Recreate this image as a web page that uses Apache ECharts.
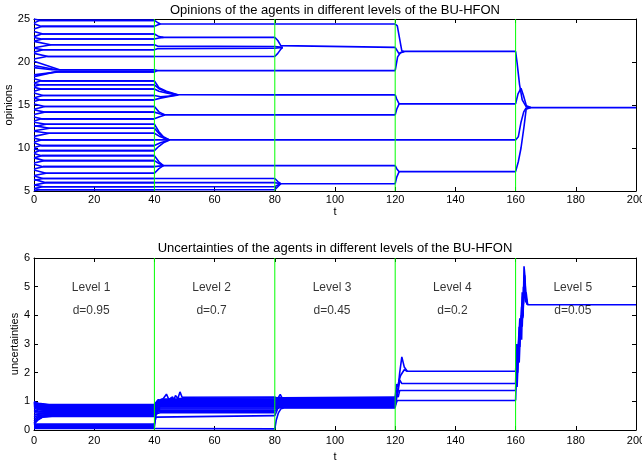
<!DOCTYPE html>
<html>
<head>
<meta charset="utf-8">
<script src="https://cdn.jsdelivr.net/npm/echarts@6/dist/echarts.min.js"></script>
<style>
html,body{margin:0;padding:0;background:#fff;}
#chart{width:642px;height:463px;}
</style>
</head>
<body>
<div id="chart"></div>
<script>
// ---------- Tick labels / texts ----------
const xTicks = [0, 20, 40, 60, 80, 100, 120, 140, 160, 180, 200];
const levelBoundaries = [40, 80, 120, 160];
const levelNames = ['Level 1', 'Level 2', 'Level 3', 'Level 4', 'Level 5'];
const levelD = ['d=0.95', 'd=0.7', 'd=0.45', 'd=0.2', 'd=0.05'];
const levelCenterT = [19, 59, 99, 139, 179];
const titleTop = 'Opinions of the agents in different levels of the BU-HFON';
const titleBottom = 'Uncertainties of the agents in different levels of the BU-HFON';

// ---------- Opinions, level 1 (t 0..40): agent start, cluster value, merge time ----------
const op1Start = [25.0,24.55, 24.45,23.85, 23.55,22.95, 22.85,22.45, 22.4,21.65, 21.6,21.15, 21.0,20.35,
  20.1,19.6,19.35, 18.5,18.3, 18.05,17.55, 17.5,17.15, 17.05,16.6, 16.4,15.85, 15.8,15.4,
  15.1,14.5, 14.45,13.9, 13.6,13.15, 13.0,12.5, 12.6,12.0, 11.95,11.35, 11.15,10.7, 10.6,10.05,
  9.9,9.45, 9.35,8.85, 8.85,8.25, 8.1,7.55, 7.45,6.8, 6.75,6.25, 6.35,5.7, 5.7,5.3, 5.3,5.02];
const op1End = [24.84,24.84, 24.14,24.14, 23.25,23.25, 22.67,22.67, 22.0,22.0, 21.42,21.42, 20.64,20.64,
  19.1,19.1,19.1, 18.85,18.85, 17.81,17.81, 17.35,17.35, 16.85,16.85, 16.1,16.1, 15.6,15.6,
  14.82,14.82, 14.17,14.17, 13.39,13.39, 12.77,12.77, 12.3,12.3, 11.72,11.72, 10.94,10.94, 10.28,10.28,
  9.7,9.7, 9.11,9.11, 8.53,8.53, 7.83,7.83, 7.06,7.06, 6.45,6.45, 5.97,5.97, 5.5,5.5, 5.15,5.15];
const op1MergeT = [2,2, 2.5,2.5, 3,2.5, 2.5,3, 5.5,5.8, 3,3, 4.7,4.2,
  8.5,7.5,6, 8,7, 2.5,2.5, 2,2, 2.5,2.5, 3,3, 2,2,
  3.6,3.6, 3.5,3.5, 2.5,2.5, 4,4, 5.2,5.2, 5,5, 2.5,2.5, 2.5,2.5,
  2,2, 2.5,2.5, 3.4,3.4, 3,3, 4,4, 3,3, 4,4, 3,3, 2,2];

// ---------- Opinions, level 2 (t 40..80) ----------
const op2Paths = [
  [[40,24.84],[41,24.6],[42,24.42],[80,24.42]],
  [[40,24.14],[41,24.3],[42,24.42]],
  [[40,23.25],[41.5,22.95],[43,22.86],[80,22.86]],
  [[40,22.67],[41.5,22.8],[43,22.86]],
  [[40,22.0],[41,21.85],[80,21.8]],
  [[40,21.42],[41,21.55],[80,21.6]],
  [[40,20.64],[80,20.64]],
  [[40,19.1],[41,19.0],[80,19.0]],
  [[40,18.85],[41,19.0]],
  [[40,17.81],[41.5,17.0],[44,16.6],[47.8,16.2],[80,16.18]],
  [[40,17.35],[41.5,16.9],[44,16.5],[47.5,16.2]],
  [[40,16.85],[41.5,16.6],[44,16.4],[47,16.2]],
  [[40,16.1],[42,15.95],[45,16.05],[47.5,16.18]],
  [[40,15.6],[42,15.8],[45,16.0],[48,16.18]],
  [[40,14.82],[41.5,14.2],[43.5,13.85],[80,13.85]],
  [[40,14.17],[42,13.95],[43.5,13.85]],
  [[40,13.39],[41.5,13.6],[43.5,13.85]],
  [[40,12.77],[41.5,11.9],[43,11.3],[45,10.94]],
  [[40,12.3],[41.5,11.7],[43,11.2],[45,10.94]],
  [[40,11.72],[42,11.3],[45,10.94]],
  [[40,10.94],[80,10.94]],
  [[40,10.28],[42,10.6],[45,10.94]],
  [[40,9.7],[41.5,10.2],[43,10.6],[45,10.94]],
  [[40,9.11],[41.5,8.4],[43,7.95],[80,7.95]],
  [[40,8.53],[41.5,8.2],[43,7.95]],
  [[40,7.83],[43,7.95]],
  [[40,7.06],[41.5,7.6],[43,7.95]],
  [[40,6.45],[80,6.45]],
  [[40,5.97],[80,5.97]],
  [[40,5.5],[80,5.5]],
  [[40,5.15],[80,5.15]]
];

// ---------- Opinions, level 3 (t 80..120) ----------
const op3Paths = [
  [[80,24.42],[120,24.42]],
  [[80,22.86],[81,22.5],[82,21.9],[82.6,21.7],[120,21.7]],
  [[80,21.8],[82.6,21.7]],
  [[80,21.6],[82.6,21.7]],
  [[80,20.64],[81,21.0],[82,21.5],[82.6,21.7]],
  [[80,19.0],[120,19.0]],
  [[80,16.18],[120,16.18]],
  [[80,13.85],[120,13.85]],
  [[80,10.94],[120,10.94]],
  [[80,7.95],[120,7.95]],
  [[80,6.45],[81,6.1],[82,5.85],[120,5.85]],
  [[80,5.97],[82,5.85]],
  [[80,5.5],[81,5.7],[82,5.85]],
  [[80,5.15],[81,5.5],[82,5.85]]
];

// ---------- Opinions, level 4 (t 120..160) ----------
const op4Paths = [
  [[120,24.42],[120.7,24.2],[122.2,21.3],[123,21.23],[160,21.23]],
  [[120,21.7],[121.2,21.0],[121.8,21.1],[123,21.23]],
  [[120,19.0],[120.8,20.6],[121.8,21.1],[123,21.23]],
  [[120,16.18],[120.5,15.7],[121.3,15.13],[160,15.13]],
  [[120,13.85],[120.5,14.5],[121.3,15.13]],
  [[120,10.94],[160,10.94]],
  [[120,7.95],[120.5,7.6],[121.3,7.25],[160,7.25]],
  [[120,5.85],[120.5,6.6],[121.3,7.25]]
];

// ---------- Opinions, level 5 (t 160..200) ----------
const op5Paths = [
  [[160,21.23],[160.5,19.9],[161.3,17.4],[162.2,15.6],[163.5,14.8],[165,14.7],[200,14.7]],
  [[160,15.13],[160.8,16.3],[161.8,16.95],[162.6,16.1],[163.6,14.9],[165,14.7]],
  [[160,10.94],[160.9,11.3],[161.8,13.0],[162.7,14.2],[163.5,14.65],[165,14.7]],
  [[160,7.25],[160.9,8.4],[161.8,10.0],[162.8,12.5],[163.5,14.5],[165,14.7]]
];

// ---------- Uncertainties, level 1 (t 0..40) ----------
const un1Paths = [
  [[0,0.98],[1.5,0.93],[5,0.89],[40,0.89]],
  [[0,0.95],[1.5,0.91],[5,0.87],[40,0.87]],
  [[0,1.0],[1.5,0.9],[5,0.85],[40,0.85]],
  [[0,0.92],[1.5,0.87],[5,0.83],[40,0.83]],
  [[0,0.97],[1.5,0.86],[5,0.81],[40,0.81]],
  [[0,0.88],[1.5,0.82],[5,0.79],[40,0.79]],
  [[0,0.94],[1.5,0.82],[5,0.77],[40,0.77]],
  [[0,0.85],[1.5,0.79],[5,0.75],[40,0.75]],
  [[0,0.96],[1.5,0.8],[6,0.73],[40,0.73]],
  [[0,0.8],[1.5,0.75],[6,0.71],[40,0.71]],
  [[0,0.9],[1.5,0.76],[6,0.69],[40,0.69]],
  [[0,0.76],[1.5,0.71],[6,0.67],[40,0.67]],
  [[0,0.86],[1.5,0.72],[6,0.65],[40,0.65]],
  [[0,0.7],[1.5,0.66],[6,0.63],[40,0.63]],
  [[0,0.66],[1.5,0.63],[6,0.61],[40,0.61]],
  [[0,0.6],[1.5,0.59],[6,0.59],[40,0.59]],
  [[0,0.52],[1.5,0.55],[6,0.57],[40,0.57]],
  [[0,0.45],[1.5,0.51],[6,0.55],[40,0.55]],
  [[0,0.38],[1.5,0.47],[6,0.53],[40,0.53]],
  [[0,0.3],[1.3,0.42],[3,0.48],[6,0.51],[40,0.51]],
  [[0,0.24],[1.3,0.37],[3,0.46],[6,0.49],[40,0.49]],
  [[0,0.19],[1.3,0.35],[2.9,0.45],[6,0.47],[40,0.47]],
  [[0,0.21],[40,0.21]],
  [[0,0.18],[40,0.18]],
  [[0,0.15],[40,0.15]],
  [[0,0.12],[40,0.12]],
  [[0,0.09],[40,0.09]],
  [[0,0.05],[40,0.05]]
];

// ---------- Uncertainties, level 2 (t 40..80) ----------
const un2Paths = [
  [[40,0.89],[40.5,0.95],[41.3,1.06],[42.3,1.0],[44,1.25],[45,1.02],[46,1.16],[46.5,1.05],[47,1.2],[47.8,1.1],[48.5,1.33],[49.2,1.14],[80,1.15]],
  [[40,0.87],[41,1.0],[43,1.06],[44.2,0.98],[45.5,1.12],[47,1.02],[48,1.1],[80,1.12]],
  [[40,0.85],[41,1.0],[42.5,1.08],[80,1.08]],
  [[40,0.83],[41,0.99],[42.5,1.05],[80,1.05]],
  [[40,0.81],[41,0.96],[42.5,1.02],[80,1.02]],
  [[40,0.79],[41,0.94],[42,0.98],[80,0.98]],
  [[40,0.77],[41,0.92],[42,0.95],[80,0.95]],
  [[40,0.75],[41,0.89],[42,0.92],[80,0.92]],
  [[40,0.73],[41,0.86],[42,0.89],[80,0.89]],
  [[40,0.69],[41,0.83],[42,0.86],[80,0.86]],
  [[40,0.67],[41,0.8],[42,0.83],[80,0.83]],
  [[40,0.63],[41,0.77],[42,0.8],[80,0.8]],
  [[40,0.6],[41,0.74],[42,0.77],[80,0.77]],
  [[40,0.57],[41,0.7],[42,0.73],[80,0.73]],
  [[40,0.53],[41,0.66],[42,0.69],[80,0.69]],
  [[40,0.49],[41,0.62],[42,0.65],[80,0.65]],
  [[40,0.47],[41,0.58],[42,0.6],[80,0.6]],
  [[40,0.21],[40.5,0.45],[41,0.5],[80,0.5]],
  [[40,0.11],[40.6,0.6],[41.2,0.9],[42,0.95]],
  [[40,0.05],[80,0.04]]
];

// ---------- Uncertainties, level 3 (t 80..120) ----------
const un3Paths = [
  [[80,1.15],[81,1.1],[81.8,1.24],[82.4,1.12],[83,1.15],[120,1.15]],
  [[80,1.12],[81.5,1.12],[120,1.12]],
  [[80,1.08],[81.5,1.09],[120,1.09]],
  [[80,1.05],[81.5,1.06],[120,1.06]],
  [[80,1.02],[81.5,1.03],[120,1.03]],
  [[80,0.98],[81.5,1.0],[120,1.0]],
  [[80,0.95],[81.5,0.97],[120,0.97]],
  [[80,0.92],[81.5,0.94],[120,0.94]],
  [[80,0.89],[81.5,0.92],[120,0.92]],
  [[80,0.86],[81.5,0.9],[120,0.9]],
  [[80,0.83],[81.5,0.88],[120,0.88]],
  [[80,0.8],[81.5,0.86],[120,0.86]],
  [[80,0.77],[81.5,0.84],[120,0.84]],
  [[80,0.73],[81.5,0.82],[120,0.82]],
  [[80,0.65],[81.2,0.8],[120,0.8]],
  [[80,0.5],[81,0.75],[82,0.79],[120,0.79]],
  [[80,0.04],[80.5,0.35],[81.2,0.6],[82,0.74],[83,0.77],[120,0.77]]
];

// ---------- Uncertainties, level 4 (t 120..160) ----------
const un4Paths = [
  [[120,1.15],[120.5,1.6],[121,1.5],[121.5,2.0],[122.2,2.55],[123,2.2],[124,2.05],[160,2.05]],
  [[120,1.05],[120.4,1.4],[120.9,1.3],[121.5,1.75],[122.2,1.62],[160,1.62]],
  [[120,0.95],[120.5,1.25],[121,1.15],[121.5,1.38],[160,1.38]],
  [[120,0.85],[120.7,1.03],[160,1.03]],
  [[120,0.78],[120.6,1.2],[121.2,1.7],[121.8,1.9],[123,2.1],[124,2.05]]
];

// ---------- Uncertainties, level 5 (t 160..200) ----------
const un5Paths = [
  [[160,1.03],[160.3,2.1],[160.5,1.5],[161,2.8],[161.2,2.35],[161.6,3.5],[162,3.15],[162.3,4.66],[162.5,3.96],[162.8,5.71],[163.1,5.36],[163.4,4.66],[164,4.37],[200,4.37]],
  [[160,1.38],[160.4,2.5],[160.7,2.0],[161.1,3.2],[161.4,2.9],[161.9,4.0],[162.2,3.6],[162.6,5.0],[163,4.6],[163.5,4.8],[164,4.37]],
  [[160,1.62],[160.3,2.8],[160.6,2.3],[161.2,3.6],[161.5,3.2],[162,4.3],[162.4,3.9],[162.9,5.2],[163.3,4.5],[164,4.37]],
  [[160,2.05],[160.4,3.0],[160.8,2.6],[161.4,3.9],[161.8,3.6],[162.2,4.8],[162.6,4.4],[163,5.4],[163.5,4.5],[164,4.37]]
];

// ---------- Build ----------
const FONT = 'Liberation Sans';
const BLUE = '#0000FF';
const GREEN = '#00FF00';
const yRanges = [[5, 25], [0, 6]];

const op1Paths = op1Start.map((s, i) => [[0, s], [op1MergeT[i], op1End[i]], [40, op1End[i]]]);
const opinionPaths = [].concat(op1Paths, op2Paths, op3Paths, op4Paths, op5Paths);
const uncertPaths = [].concat(un1Paths, un2Paths, un3Paths, un4Paths, un5Paths);

const series = [];
function addPaths(paths, gi) {
  paths.forEach(p => {
    series.push({
      type: 'line', xAxisIndex: gi, yAxisIndex: gi, data: p,
      showSymbol: false, symbol: 'none', silent: true, animation: false,
      lineStyle: { color: BLUE, width: 1.6 }, z: 2
    });
  });
}
addPaths(opinionPaths, 0);
addPaths(uncertPaths, 1);

[0, 1].forEach(gi => {
  levelBoundaries.forEach(b => {
    series.push({
      type: 'line', xAxisIndex: gi, yAxisIndex: gi,
      data: [[b, yRanges[gi][0]], [b, yRanges[gi][1]]],
      showSymbol: false, symbol: 'none', silent: true, animation: false, z: 3,
      lineStyle: { color: GREEN, width: 1 }
    });
  });
});

series.push({
  type: 'scatter', xAxisIndex: 1, yAxisIndex: 1, silent: true, animation: false,
  symbolSize: 1, itemStyle: { color: 'rgba(0,0,0,0)' },
  data: levelCenterT.map((t, i) => [t, 4.95, levelNames[i]]).concat(levelCenterT.map((t, i) => [t, 4.16, levelD[i]])),
  label: {
    show: true, position: 'inside', color: '#000', fontSize: 12, fontFamily: FONT,
    formatter: p => p.value[2]
  }
});

const grids = [
  { left: 34, right: 6, top: 19, height: 172, outerBoundsMode: 'none', containLabel: false },
  { left: 34, right: 6, top: 258, height: 172, outerBoundsMode: 'none', containLabel: false }
];

function xAx(gi, pos, main, margin, gap) {
  return {
    type: 'value', gridIndex: gi, position: pos, min: 0, max: 200, interval: 20,
    axisLine: { show: true, onZero: false, lineStyle: { color: '#000', width: 1 } },
    axisTick: { show: true, inside: true, length: 4, lineStyle: { color: '#000' } },
    axisLabel: { show: main, color: '#000', fontSize: 11, fontFamily: FONT, margin: margin || 5 },
    splitLine: { show: false },
    name: main ? 't' : '', nameLocation: 'middle', nameGap: gap || 19, nameMoveOverlap: false,
    nameTextStyle: { color: '#000', fontSize: 11, fontFamily: FONT }
  };
}
function yAx(gi, pos, main, min, max, interval, name, gap) {
  return {
    type: 'value', gridIndex: gi, position: pos, min: min, max: max, interval: interval,
    axisLine: { show: true, onZero: false, lineStyle: { color: '#000', width: 1 } },
    axisTick: { show: true, inside: true, length: 4, lineStyle: { color: '#000' } },
    axisLabel: { show: main, color: '#000', fontSize: 11, fontFamily: FONT, margin: 4 },
    splitLine: { show: false },
    name: main ? name : '', nameLocation: 'middle', nameGap: gap, nameRotate: 90, nameMoveOverlap: false,
    nameTextStyle: { color: '#000', fontSize: 11, fontFamily: FONT }
  };
}

const option = {
  backgroundColor: '#fff',
  animation: false,
  grid: grids,
  xAxis: [xAx(0, 'bottom', true, 3, 15), xAx(1, 'bottom', true, 5, 21), xAx(0, 'top', false), xAx(1, 'top', false)],
  yAxis: [
    yAx(0, 'left', true, 5, 25, 5, 'opinions', 20),
    yAx(1, 'left', true, 0, 6, 1, 'uncertainties', 14),
    yAx(0, 'right', false, 5, 25, 5, '', 0),
    yAx(1, 'right', false, 0, 6, 1, '', 0)
  ],
  graphic: [
    { type: 'text', x: 335, y: 10, style: { text: titleTop, fill: '#000', font: '13px "Liberation Sans"', textAlign: 'center', textVerticalAlign: 'middle' } },
    { type: 'text', x: 335, y: 248, style: { text: titleBottom, fill: '#000', font: '13px "Liberation Sans"', textAlign: 'center', textVerticalAlign: 'middle' } }
  ],
  series: series
};

const chart = echarts.init(document.getElementById('chart'), null, { renderer: 'canvas' });
chart.setOption(option);
</script>
</body>
</html>
